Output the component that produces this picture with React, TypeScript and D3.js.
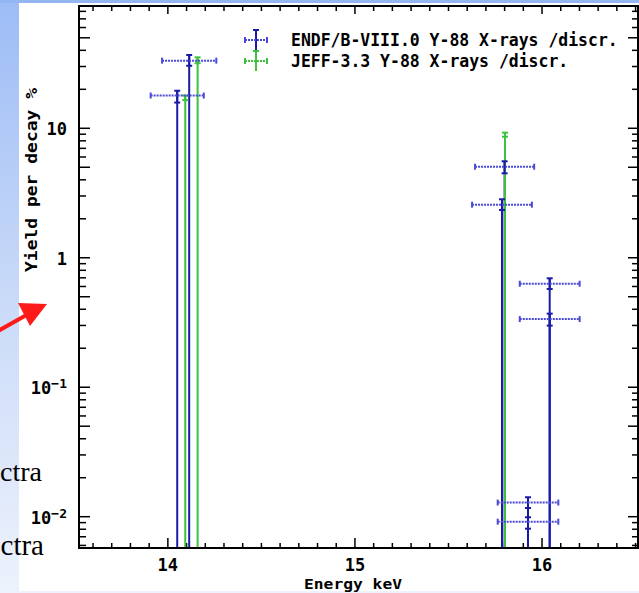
import React from "react";
import * as d3 from "d3";

const W = 639;
const H = 593;

// ENDF/B-VIII.0 Y-88 X-rays
const endfEnergy = [14.05, 14.114, 15.786, 15.8, 15.925, 15.925, 16.041, 16.041];
const endfDE = [0.142, 0.145, 0.16, 0.158, 0.162, 0.162, 0.16, 0.16];
const endfYield = [17.9, 33.3, 2.57, 5.05, 0.01286, 0.00915, 0.63, 0.336];
const endfLo = [15.8, 30.4, 2.34, 4.49, 0.01167, 0.00808, 0.574, 0.299];
const endfHi = [19.5, 36.8, 2.83, 5.56, 0.01413, 0.0099, 0.694, 0.37];

// JEFF-3.3 Y-88 X-rays
const jeffEnergy = [14.093, 14.159, 15.802];
const jeffYield = [17.2, 33.5, 8.9];
const jeffLo = [16.5, 31.8, 8.61];
const jeffHi = [17.9, 35.3, 9.25];

const xTickValues = [14, 15, 16];
const yTickValues = [10, 1, 0.1, 0.01];
const yTickLabels = [["10", ""], ["1", ""], ["10", "−1"], ["10", "−2"]];

const legendLabels = ["ENDF/B-VIII.0 Y-88 X-rays /discr.", "JEFF-3.3 Y-88 X-rays /discr."];
const xTitle = "Energy keV";
const yTitle = "Yield per decay %";
const slideTexts = ["ctra", "ctra"];

const BLUE = "#1a1aa6";
const BLUE_DOT = "#4a4ad6";
const GREEN = "#3cc23c";
const FONT = "'DejaVu Sans Mono', 'Liberation Mono', monospace";

export default function App() {
  const L = 79, R = 638, T = 6, B = 548;
  const x = d3.scaleLinear().domain([13.525, 16.513]).range([L, R]);
  const y = d3.scaleLog().domain([0.005731, 88.0]).range([B, T]);

  const xMinor = d3.range(136, 166).map((v) => v / 10).filter((v) => x(v) > L + 1 && x(v) < R - 1);
  const yMinor: number[] = [];
  [0.001, 0.01, 0.1, 1, 10].forEach((dec) => {
    for (let k = 1; k <= 9; k++) {
      const v = dec * k;
      if (y(v) > T + 1 && y(v) < B - 1) yMinor.push(v);
    }
  });

  const isMajorX = (v: number) => Math.abs(v - Math.round(v)) < 1e-6;
  const isMajorY = (v: number) => {
    const m = v / Math.pow(10, Math.floor(Math.log10(v) + 1e-9));
    return Math.abs(m - 1) < 1e-6 || Math.abs(m - 5) < 1e-6;
  };

  const hBar = (e: number, de: number, v: number, key: string, color: string) => {
    const yy = y(v);
    return (
      <g key={key}>
        <line x1={x(e - de)} x2={x(e + de)} y1={yy} y2={yy} stroke={color} strokeWidth={2} strokeDasharray="2,1" />
        <line x1={x(e - de)} x2={x(e - de)} y1={yy - 3} y2={yy + 3} stroke={color} strokeWidth={2} />
        <line x1={x(e + de)} x2={x(e + de)} y1={yy - 3} y2={yy + 3} stroke={color} strokeWidth={2} />
      </g>
    );
  };
  const vErr = (e: number, lo: number, hi: number, key: string, color: string) => {
    const xx = x(e);
    return (
      <g key={key}>
        <line x1={xx} x2={xx} y1={y(lo)} y2={y(hi)} stroke={color} strokeWidth={2} />
        <line x1={xx - 3} x2={xx + 3} y1={y(hi)} y2={y(hi)} stroke={color} strokeWidth={2} />
        <line x1={xx - 3} x2={xx + 3} y1={y(lo)} y2={y(lo)} stroke={color} strokeWidth={2} />
      </g>
    );
  };

  const legendX = 256;
  const legendY = [40, 61];
  const legendColors = [BLUE, GREEN];
  const legendDot = [BLUE_DOT, GREEN];

  return (
    <svg width={W} height={H} style={{ position: "absolute", left: 0, top: 0 }}>
      <defs>
        <linearGradient id="bg" x1="0" y1="0" x2="0" y2="1">
          <stop offset="0" stopColor="#9dbcf6" />
          <stop offset="0.5" stopColor="#c9daf8" />
          <stop offset="1" stopColor="#edf2fc" />
        </linearGradient>
      </defs>
      <rect x={0} y={0} width={W} height={H} fill="url(#bg)" />
      <rect x={0} y={0} width={W} height={3} fill="#93b5f4" />
      <rect x={19} y={3} width={W - 19} height={588} fill="#ffffff" />

      {/* ticks */}
      {xMinor.map((v) => {
        const len = isMajorX(v) ? 10 : 5;
        const lenT = isMajorX(v) ? 8 : 5;
        return (
          <g key={"xt" + v}>
            <line x1={x(v)} x2={x(v)} y1={B} y2={B - len} stroke="#000" strokeWidth={1.5} />
            <line x1={x(v)} x2={x(v)} y1={T} y2={T + lenT} stroke="#000" strokeWidth={1.5} />
          </g>
        );
      })}
      {yMinor.map((v) => {
        const len = isMajorY(v) ? 11 : 7;
        const lenR = isMajorY(v) ? 10 : 6;
        return (
          <g key={"yt" + v}>
            <line x1={L} x2={L + len} y1={y(v)} y2={y(v)} stroke="#000" strokeWidth={1.5} />
            <line x1={R} x2={R - lenR} y1={y(v)} y2={y(v)} stroke="#000" strokeWidth={1.5} />
          </g>
        );
      })}

      {/* data: vertical lines */}
      {endfEnergy.map((e, i) => (
        <line key={"bl" + i} x1={x(e)} x2={x(e)} y1={B} y2={y(endfHi[i])} stroke={BLUE} strokeWidth={2} />
      ))}
      {jeffEnergy.map((e, i) => (
        <line key={"gl" + i} x1={x(e)} x2={x(e)} y1={B} y2={y(jeffHi[i])} stroke={GREEN} strokeWidth={2} />
      ))}
      {jeffEnergy.map((e, i) => vErr(e, jeffLo[i], jeffHi[i], "ge" + i, GREEN))}
      {endfEnergy.map((e, i) => vErr(e, endfLo[i], endfHi[i], "be" + i, BLUE))}
      {endfEnergy.map((e, i) => hBar(e, endfDE[i], endfYield[i], "bh" + i, BLUE_DOT))}

      {/* frame */}
      <rect x={L} y={T} width={R - L} height={B - T} fill="none" stroke="#000" strokeWidth={2} />

      {/* x tick labels */}
      {xTickValues.map((v) => (
        <text key={"xl" + v} x={x(v)} y={571} textAnchor="middle" fontFamily={FONT} fontWeight="bold" fontSize={17} fill="#000">
          {v}
        </text>
      ))}
      {/* y tick labels */}
      {yTickValues.map((v, i) => (
        <text key={"yl" + v} x={67} y={y(v) + 7} textAnchor="end" fontFamily={FONT} fontWeight="bold" fontSize={17} fill="#000">
          {yTickLabels[i][0]}
          {yTickLabels[i][1] ? (
            <tspan dy={-6} fontSize={13}>{yTickLabels[i][1]}</tspan>
          ) : null}
        </text>
      ))}

      {/* axis titles */}
      <text x={353} y={589} textAnchor="middle" fontFamily={FONT} fontWeight="bold" fontSize={14} textLength={98} lengthAdjust="spacingAndGlyphs" fill="#000">
        {xTitle}
      </text>
      <text
        transform="translate(37,180) rotate(-90)"
        textAnchor="middle"
        fontFamily={FONT}
        fontWeight="bold"
        fontSize={15}
        textLength={184}
        lengthAdjust="spacingAndGlyphs"
        fill="#000"
      >
        {yTitle}
      </text>

      {/* legend */}
      {legendLabels.map((lab, i) => {
        const ly = legendY[i];
        return (
          <g key={"lg" + i}>
            <line x1={legendX} x2={legendX} y1={ly - 10} y2={ly + 10} stroke={legendColors[i]} strokeWidth={2} />
            <line x1={legendX - 3} x2={legendX + 3} y1={ly - 10} y2={ly - 10} stroke={legendColors[i]} strokeWidth={2} />
            <line x1={legendX - 11} x2={legendX + 11} y1={ly} y2={ly} stroke={legendDot[i]} strokeWidth={2} strokeDasharray="2,1" />
            <line x1={legendX - 11} x2={legendX - 11} y1={ly - 3} y2={ly + 3} stroke={legendDot[i]} strokeWidth={2} />
            <line x1={legendX + 11} x2={legendX + 11} y1={ly - 3} y2={ly + 3} stroke={legendDot[i]} strokeWidth={2} />
            <text x={291} y={ly + 6} fontFamily={FONT} fontWeight="bold" fontSize={17} textLength={lab.length * 9.9} lengthAdjust="spacingAndGlyphs" fill="#000">
              {lab}
            </text>
          </g>
        );
      })}

      {/* slide overlays */}
      <text x={42} y={481} textAnchor="end" fontFamily="'Liberation Serif', 'Times New Roman', serif" fontSize={28} fill="#000">
        {slideTexts[0]}
      </text>
      <text x={44} y={555} textAnchor="end" fontFamily="'Liberation Serif', 'Times New Roman', serif" fontSize={29} fill="#000">
        {slideTexts[1]}
      </text>
      <line x1={-2} y1={331} x2={30} y2={313} stroke="#ff1a1a" strokeWidth={4} />
      <polygon points="47,304 18,303 30,326" fill="#ff1a1a" />
    </svg>
  );
}
